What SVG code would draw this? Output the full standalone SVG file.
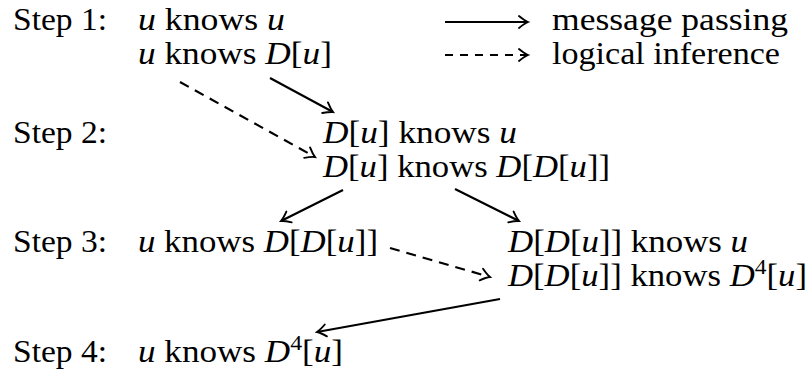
<svg xmlns="http://www.w3.org/2000/svg" width="811" height="376" viewBox="0 0 811 376">
<style>
text{font-family:'Liberation Serif','DejaVu Serif','Times New Roman',Times,serif;font-size:31px;fill:#000}
.m{font-style:italic}
.sup{font-size:21px}
.c{stroke:#000;stroke-width:2.2;fill:none}
.d{stroke-dasharray:10 7}
.ld{stroke-dasharray:8 7}
</style>
<defs>
<marker id="ah" markerUnits="userSpaceOnUse" markerWidth="24" markerHeight="24" viewBox="-12 -12 24 24" refX="0" refY="0" orient="auto">
<path d="M-9,-6 Q-3.5,-1.5 0,0 Q-3.5,1.5 -9,6" fill="none" stroke="#000" stroke-width="1.9" stroke-linecap="round"/>
</marker>
</defs>
<rect width="811" height="376" fill="#fff"/>
<g id="labels">
<text x="13" y="30" font-family="Liberation Serif, DejaVu Serif, serif" textLength="94" lengthAdjust="spacingAndGlyphs">Step 1:</text>
<text x="13" y="143" font-family="Liberation Serif, DejaVu Serif, serif" textLength="94" lengthAdjust="spacingAndGlyphs">Step 2:</text>
<text x="13" y="252" font-family="Liberation Serif, DejaVu Serif, serif" textLength="94" lengthAdjust="spacingAndGlyphs">Step 3:</text>
<text x="13" y="362" font-family="Liberation Serif, DejaVu Serif, serif" textLength="94" lengthAdjust="spacingAndGlyphs">Step 4:</text>
</g>
<g id="step1">
<text x="138" y="30" textLength="147" lengthAdjust="spacingAndGlyphs"><tspan class="m">u</tspan> knows <tspan class="m">u</tspan></text>
<text x="138" y="64" textLength="194" lengthAdjust="spacingAndGlyphs"><tspan class="m">u</tspan> knows <tspan class="m">D</tspan>[<tspan class="m">u</tspan>]</text>
</g>
<g id="legend">
<line class="c" x1="445" y1="22" x2="528" y2="22" marker-end="url(#ah)"/>
<text x="552" y="30" textLength="236" lengthAdjust="spacingAndGlyphs">message passing</text>
<line class="c ld" x1="445" y1="55" x2="528" y2="55" marker-end="url(#ah)"/>
<text x="552" y="64" textLength="228" lengthAdjust="spacingAndGlyphs">logical inference</text>
</g>
<g id="step2">
<text x="323" y="143" textLength="194" lengthAdjust="spacingAndGlyphs"><tspan class="m">D</tspan>[<tspan class="m">u</tspan>] knows <tspan class="m">u</tspan></text>
<text x="323" y="177" textLength="287" lengthAdjust="spacingAndGlyphs"><tspan class="m">D</tspan>[<tspan class="m">u</tspan>] knows <tspan class="m">D</tspan>[<tspan class="m">D</tspan>[<tspan class="m">u</tspan>]]</text>
</g>
<g id="step3-left">
<text x="138" y="252" textLength="240" lengthAdjust="spacingAndGlyphs"><tspan class="m">u</tspan> knows <tspan class="m">D</tspan>[<tspan class="m">D</tspan>[<tspan class="m">u</tspan>]]</text>
</g>
<g id="step3-right">
<text x="508" y="252" textLength="240" lengthAdjust="spacingAndGlyphs"><tspan class="m">D</tspan>[<tspan class="m">D</tspan>[<tspan class="m">u</tspan>]] knows <tspan class="m">u</tspan></text>
<text x="508" y="286" textLength="299" lengthAdjust="spacingAndGlyphs"><tspan class="m">D</tspan>[<tspan class="m">D</tspan>[<tspan class="m">u</tspan>]] knows <tspan class="m">D</tspan><tspan class="sup" dy="-12">4</tspan><tspan dy="12">[</tspan><tspan class="m">u</tspan>]</text>
</g>
<g id="step4">
<text x="138" y="362" textLength="205" lengthAdjust="spacingAndGlyphs"><tspan class="m">u</tspan> knows <tspan class="m">D</tspan><tspan class="sup" dy="-12">4</tspan><tspan dy="12">[</tspan><tspan class="m">u</tspan>]</text>
</g>
<g id="connectors">
<line class="c" x1="270" y1="78" x2="333" y2="112" marker-end="url(#ah)"/>
<line class="c d" x1="180" y1="82" x2="315" y2="157" marker-end="url(#ah)"/>
<line class="c" x1="343" y1="190" x2="281" y2="221" marker-end="url(#ah)"/>
<line class="c" x1="455" y1="189" x2="519" y2="221" marker-end="url(#ah)"/>
<line class="c d" x1="390" y1="248" x2="490" y2="277" marker-end="url(#ah)"/>
<line class="c" x1="500" y1="299" x2="317" y2="332" marker-end="url(#ah)"/>
</g>
</svg>
